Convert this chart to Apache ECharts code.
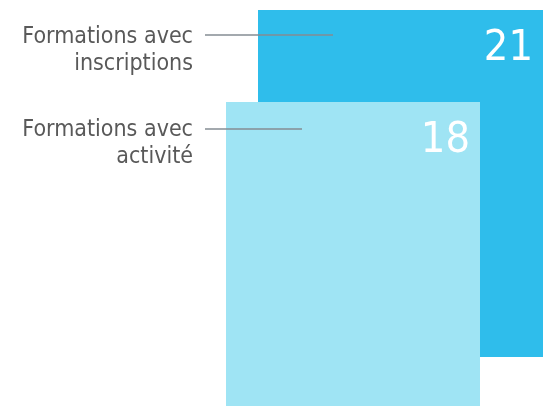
<!DOCTYPE html>
<html>
<head>
<meta charset="utf-8">
<script src="https://cdn.jsdelivr.net/npm/echarts@6/dist/echarts.min.js"></script>
<style>
  html, body { margin: 0; padding: 0; background: #fff; }
  #chart { width: 543px; height: 406px; }
</style>
</head>
<body>
<div id="chart"></div>
<script>
// libellés et valeurs
const categories = ["Formations avec\ninscriptions", "Formations avec\nactivité"]
const values = [21, 18]
const colors = ["#2fbdeb", "#9fe4f4"]

const chart = echarts.init(document.getElementById("chart"))

const labelFont = "'DejaVu Sans Condensed', 'Liberation Sans Narrow', sans-serif"

chart.setOption({
  animation: false,
  grid: [
    // carré arrière (inscriptions)
    { left: 258, right: 0, top: 10, bottom: 49 },
    // carré avant (activité)
    { left: 226, right: 63, top: 102, bottom: -40 }
  ],
  xAxis: [
    { type: "category", gridIndex: 0, data: [categories[0]], show: false },
    { type: "category", gridIndex: 1, data: [categories[1]], show: false }
  ],
  yAxis: [
    { type: "value", gridIndex: 0, min: 0, max: values[0], show: false },
    { type: "value", gridIndex: 1, min: 0, max: values[1], show: false }
  ],
  series: values.map((v, i) => ({
    type: "bar",
    name: categories[i],
    xAxisIndex: i,
    yAxisIndex: i,
    barWidth: "100%",
    data: [v],
    itemStyle: { color: colors[i] },
    label: {
      show: true,
      position: "insideTopRight",
      offset: [0, 7],
      distance: 10,
      color: "#fff",
      fontFamily: labelFont,
      fontSize: 43
    },
    z: 2 + i
  })),
  graphic: categories.flatMap((c, i) => [
    {
      type: "text",
      z: 100,
      x: 193,
      y: [24, 117][i],
      style: {
        text: c,
        align: "right",
        verticalAlign: "top",
        font: "23px " + labelFont,
        lineHeight: 27,
        fill: "#595959"
      }
    },
    {
      type: "line",
      z: 100,
      shape: { x1: 205, y1: [35, 129][i], x2: [333, 302][i], y2: [35, 129][i] },
      style: { stroke: "#858d93", lineWidth: 1.3 }
    }
  ])
})
</script>
</body>
</html>
